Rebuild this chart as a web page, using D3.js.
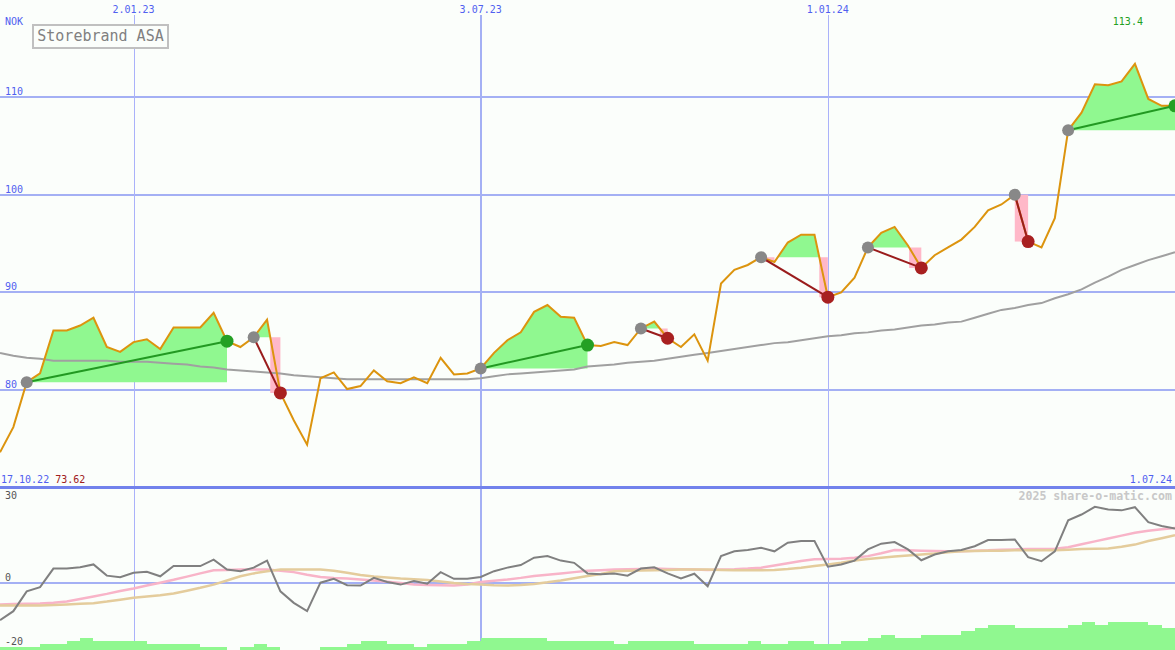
<!DOCTYPE html>
<meta charset="utf-8">
<style>

body {
  margin: 0;
  background: #fbfefb;
}

svg {
  display: block;
  font-family: "DejaVu Sans Mono", monospace;
  font-size: 10px;
}

.grid line {
  stroke: #a4b0f4;
  shape-rendering: crispEdges;
}

.line {
  fill: none;
}

</style>
<body>
<script src="https://d3js.org/d3.v7.min.js"></script>
<script>

var width = 1175,
    height = 650;

// weekly closes, 17.10.22 .. 1.07.24 (NOK)
var price = [
  73.62, 76.2, 80.8, 81.7, 86.1, 86.1, 86.6, 87.4, 84.4, 83.9,
  84.9, 85.2, 84.2, 86.4, 86.4, 86.4, 87.9, 85.0, 84.4, 85.4,
  87.2, 79.7, 76.9, 74.4, 81.2, 81.8, 80.1, 80.4, 82.0, 80.9,
  80.7, 81.3, 80.7, 83.3, 81.6, 81.7, 82.2, 83.8, 85.1, 85.9,
  88.0, 88.7, 87.5, 87.4, 84.6, 84.5, 84.9, 84.6, 86.3, 87.0,
  85.3, 84.4, 85.7, 83.0, 90.9, 92.3, 92.8, 93.6, 93.1, 95.1,
  95.9, 95.9, 89.5, 90.0, 91.5, 94.6, 96.1, 96.7, 94.8, 92.5,
  93.8, 94.6, 95.4, 96.7, 98.4, 99.0, 100.0, 95.2, 94.6, 97.6,
  106.6, 108.4, 111.3, 111.2, 111.6, 113.4, 109.8, 109.1, 109.1
];

// long moving average (grey line in the price panel)
var priceAvg = [
  83.8, 83.5, 83.3, 83.2, 83.0, 83.0, 83.0, 83.0, 83.0, 82.9,
  82.9, 82.9, 82.8, 82.7, 82.6, 82.4, 82.3, 82.1, 82.0, 81.9,
  81.8, 81.7, 81.5, 81.4, 81.3, 81.2, 81.1, 81.1, 81.1, 81.1,
  81.1, 81.1, 81.1, 81.1, 81.1, 81.1, 81.2, 81.4, 81.6, 81.7,
  81.8, 81.9, 82.0, 82.1, 82.4, 82.5, 82.6, 82.8, 82.9, 83.0,
  83.2, 83.4, 83.6, 83.8, 84.0, 84.2, 84.4, 84.6, 84.8, 84.9,
  85.1, 85.3, 85.5, 85.6, 85.8, 85.9, 86.1, 86.2, 86.4, 86.6,
  86.7, 86.9, 87.0, 87.4, 87.8, 88.2, 88.4, 88.7, 88.9, 89.4,
  89.8, 90.3, 91.0, 91.6, 92.3, 92.8, 93.3, 93.7, 94.1
];

// lower panel: momentum (grey) with two signal lines
var momentum = [
  -11.6, -8.8, -2.6, -1.3, 4.5, 4.5, 4.9, 5.8, 2.3, 1.8,
  3.2, 3.5, 2.1, 5.3, 5.3, 5.3, 7.3, 4.2, 3.7, 4.8,
  7.0, -2.6, -6.2, -8.8, 0.1, 1.3, -0.7, -0.8, 1.6, 0.3,
  -0.5, 0.6, -0.2, 3.4, 1.3, 1.3, 1.9, 3.7, 4.8, 5.6,
  7.9, 8.4, 7.0, 6.3, 3.0, 2.7, 3.0, 2.3, 4.5, 4.9,
  3.0, 1.4, 2.9, -1.0, 8.4, 9.9, 10.3, 11.0, 9.9, 12.6,
  13.1, 13.1, 5.1, 5.8, 7.0, 10.5, 12.3, 12.8, 10.5, 7.1,
  8.9, 9.9, 10.3, 11.5, 13.4, 13.4, 13.6, 8.1, 6.8, 9.9,
  19.6, 21.4, 23.8, 23.0, 22.7, 23.7, 19.0, 17.8, 17.0
];

var signalFast = [
  -6.7, -6.6, -6.5, -6.4, -6.2, -5.8, -5.0, -4.2, -3.4, -2.5,
  -1.7, -0.8, 0.1, 1.0, 2.0, 3.0, 4.0, 4.1, 4.2, 4.2,
  4.2, 3.8, 3.4, 2.6, 1.9, 1.6, 1.4, 1.1, 0.8, 0.4,
  0.0, -0.5, -0.6, -0.7, -0.8, -0.5, 0.3, 0.7, 1.1, 1.6,
  2.2, 2.6, 3.0, 3.4, 3.8, 4.0, 4.2, 4.3, 4.4, 4.5,
  4.4, 4.3, 4.2, 4.1, 4.2, 4.3, 4.5, 4.8, 5.5, 6.2,
  6.9, 7.4, 7.5, 7.6, 7.9, 8.4, 9.3, 10.3, 10.2, 10.1,
  10.0, 9.9, 9.9, 10.1, 10.2, 10.4, 10.5, 10.6, 10.6, 10.7,
  11.2, 12.1, 13.0, 13.9, 14.8, 15.7, 16.3, 16.8, 17.2
];

var signalSlow = [
  -7.0, -7.0, -7.0, -7.0, -6.9, -6.7, -6.5, -6.3, -5.8, -5.2,
  -4.6, -4.2, -3.8, -3.3, -2.4, -1.5, -0.5, 0.8, 2.1, 3.0,
  3.7, 4.2, 4.2, 4.2, 4.2, 3.8, 3.2, 2.5, 2.0, 1.7,
  1.4, 1.2, 0.9, 0.5, 0.0, -0.3, -0.5, -0.7, -0.8, -0.6,
  -0.3, 0.2, 0.8, 1.5, 2.2, 2.8, 3.7, 3.8, 3.9, 4.0,
  4.1, 4.2, 4.2, 4.2, 4.1, 4.0, 4.0, 4.0, 4.1, 4.4,
  4.8, 5.3, 5.8, 6.3, 7.0, 7.5, 7.9, 8.3, 8.6, 8.9,
  9.2, 9.6, 9.9, 10.0, 10.1, 10.1, 10.2, 10.2, 10.2, 10.2,
  10.4, 10.6, 10.7, 10.8, 11.3, 12.0, 13.1, 14.0, 14.9
];

// turnover bars at the bottom (relative units)
var volume = [
  3, 3, 3, 6, 6, 9, 12, 9, 9, 9,
  9, 6, 6, 6, 6, 3, 3, 0, 3, 6,
  3, 0, 0, 0, 3, 3, 6, 9, 9, 6,
  6, 3, 6, 6, 6, 9, 12, 12, 12, 12,
  12, 9, 9, 9, 9, 9, 6, 9, 9, 9,
  9, 9, 6, 6, 6, 6, 9, 6, 6, 9,
  9, 6, 6, 9, 9, 12, 15, 12, 12, 15,
  15, 15, 19, 22, 25, 25, 22, 22, 22, 22,
  25, 28, 25, 28, 28, 28, 25, 22, 22
];

// [entry week, exit week]
var trades = [[2, 17], [19, 21], [36, 44], [48, 50], [57, 62], [65, 69], [76, 77], [80, 88]];

var dateTicks = [
  {i: 10, label: "2.01.23", major: false},
  {i: 36, label: "3.07.23", major: true},
  {i: 62, label: "1.01.24", major: false}
];
var priceTicks = [80, 90, 100, 110];
var lowerTicks = [30, 0, -20];

var title = "Storebrand ASA",
    currency = "NOK",
    firstDate = "17.10.22",
    lastDate = "1.07.24",
    footer = "2025 share-o-matic.com";

var x = d3.scaleLinear()
    .domain([0, price.length - 1])
    .range([0, width]);

var y = d3.scaleLinear()
    .domain([80, 110])
    .range([390, 97]);

var y2 = d3.scaleLinear()
    .domain([-20, 30])
    .range([647, 487]);

var yVol = d3.scaleLinear()
    .domain([0, 30])
    .range([650, 620]);

var svg = d3.select("body").append("svg")
    .attr("width", width)
    .attr("height", height);

svg.append("rect")
    .attr("width", width)
    .attr("height", height)
    .attr("fill", "#fbfefb");

var defs = svg.append("defs");
defs.append("clipPath").attr("id", "clipTop")
  .append("rect").attr("x", 0).attr("y", 0).attr("width", width).attr("height", 486);
defs.append("clipPath").attr("id", "clipLow")
  .append("rect").attr("x", 0).attr("y", 488).attr("width", width).attr("height", height - 488);

// grid
var grid = svg.append("g").attr("class", "grid");

grid.selectAll(".h")
    .data(priceTicks)
  .enter().append("line")
    .attr("x1", 0).attr("x2", width)
    .attr("y1", function(d) { return Math.round(y(d)); })
    .attr("y2", function(d) { return Math.round(y(d)); })
    .style("stroke-width", 2);

grid.append("line")
    .attr("x1", 0).attr("x2", width)
    .attr("y1", Math.round(y2(0))).attr("y2", Math.round(y2(0)))
    .style("stroke-width", 2);

grid.selectAll(".v")
    .data(dateTicks)
  .enter().append("line")
    .attr("x1", function(d) { return Math.round(x(d.i)); })
    .attr("x2", function(d) { return Math.round(x(d.i)); })
    .attr("y1", 15).attr("y2", height)
    .style("stroke-width", function(d) { return d.major ? 2 : 1; })
    .style("stroke", function(d) { return d.major ? "#a4b0f4" : "#aab2fa"; });

// volume bars
svg.append("g")
    .attr("clip-path", "url(#clipLow)")
  .selectAll("rect")
    .data(volume)
  .enter().append("rect")
    .attr("x", function(d, i) { return x(i); })
    .attr("width", function(d, i) { return x(i + 1) - x(i); })
    .attr("y", function(d) { return yVol(d); })
    .attr("height", function(d) { return yVol(0) - yVol(d); })
    .attr("fill", "#90f890")
    .attr("shape-rendering", "crispEdges");

// trade result areas
function tradeSeries(t) {
  var a = t[0], b = t[1], base = price[a], pts = [{i: a, v: base}];
  for (var i = a + 1; i <= b; i++) {
    var p0 = price[i - 1], p1 = price[i];
    if ((p0 - base) * (p1 - base) < 0) pts.push({i: i - 1 + (base - p0) / (p1 - p0), v: base});
    pts.push({i: i, v: p1});
  }
  return pts;
}

var upper = svg.append("g").attr("clip-path", "url(#clipTop)");

trades.forEach(function(t) {
  var base = price[t[0]], pts = tradeSeries(t);

  upper.append("path")
      .datum(pts)
      .attr("fill", "#90f890")
      .attr("d", d3.area()
          .x(function(d) { return x(d.i); })
          .y0(y(base))
          .y1(function(d) { return y(Math.max(d.v, base)); }));

  upper.append("path")
      .datum(pts)
      .attr("fill", "#ffb8c8")
      .attr("d", d3.area()
          .curve(d3.curveStepBefore)
          .x(function(d) { return x(d.i); })
          .y0(y(base))
          .y1(function(d) { return y(Math.min(d.v, base)); }));
});

upper.append("path")
    .datum(priceAvg)
    .attr("class", "line")
    .attr("stroke", "#a0a0a0")
    .attr("stroke-width", 2)
    .attr("d", d3.line().x(function(d, i) { return x(i); }).y(function(d) { return y(d); }));

upper.append("path")
    .datum(price)
    .attr("class", "line")
    .attr("stroke", "#dc940e")
    .attr("stroke-width", 2)
    .attr("d", d3.line().x(function(d, i) { return x(i); }).y(function(d) { return y(d); }));

upper.selectAll(".trade")
    .data(trades)
  .enter().append("line")
    .attr("x1", function(d) { return x(d[0]); })
    .attr("y1", function(d) { return y(price[d[0]]); })
    .attr("x2", function(d) { return x(d[1]); })
    .attr("y2", function(d) { return y(price[d[1]]); })
    .attr("stroke", function(d) { return price[d[1]] >= price[d[0]] ? "#229922" : "#9a1c1c"; })
    .attr("stroke-width", 2);

upper.selectAll(".entry")
    .data(trades)
  .enter().append("circle")
    .attr("cx", function(d) { return x(d[0]); })
    .attr("cy", function(d) { return y(price[d[0]]); })
    .attr("r", 6)
    .attr("fill", "#888888");

upper.selectAll(".exit")
    .data(trades)
  .enter().append("circle")
    .attr("cx", function(d) { return x(d[1]); })
    .attr("cy", function(d) { return y(price[d[1]]); })
    .attr("r", 6.5)
    .attr("fill", function(d) { return price[d[1]] >= price[d[0]] ? "#24a024" : "#a82020"; });

// lower panel lines
var lower = svg.append("g").attr("clip-path", "url(#clipLow)");
var lowLine = d3.line().x(function(d, i) { return x(i); }).y(function(d) { return y2(d); });

lower.append("path").datum(signalFast).attr("class", "line")
    .attr("stroke", "#f8b4c8").attr("stroke-width", 2.5).attr("d", lowLine);
lower.append("path").datum(signalSlow).attr("class", "line")
    .attr("stroke", "#e4cc9c").attr("stroke-width", 2.5).attr("d", lowLine);
lower.append("path").datum(momentum).attr("class", "line")
    .attr("stroke", "#808080").attr("stroke-width", 2).attr("d", lowLine);

// panel separator
svg.append("line")
    .attr("x1", 0).attr("x2", width)
    .attr("y1", 487).attr("y2", 487)
    .attr("stroke", "#7282ec")
    .attr("stroke-width", 3)
    .attr("shape-rendering", "crispEdges");

// labels
var blue = "#5060f0";

svg.selectAll(".ptick")
    .data(priceTicks)
  .enter().append("text")
    .attr("x", 5)
    .attr("y", function(d) { return y(d) - 2; })
    .attr("fill", blue)
    .text(function(d) { return d; });

svg.selectAll(".ltick")
    .data(lowerTicks)
  .enter().append("text")
    .attr("x", 5)
    .attr("y", function(d) { return Math.max(y2(d) - 2, 499); })
    .attr("fill", "#555")
    .text(function(d) { return d; });

svg.selectAll(".dtick")
    .data(dateTicks)
  .enter().append("text")
    .attr("x", function(d) { return x(d.i); })
    .attr("y", 13)
    .attr("text-anchor", "middle")
    .attr("fill", blue)
    .text(function(d) { return d.label; });

svg.append("text").attr("x", 5).attr("y", 25).attr("fill", blue).text(currency);

var maxIdx = d3.maxIndex(price);
svg.append("text")
    .attr("x", x(maxIdx) + 8)
    .attr("y", 25)
    .attr("text-anchor", "end")
    .attr("fill", "#22a022")
    .text(d3.format(".1f")(price[maxIdx]));

var startLabel = svg.append("text").attr("x", 1).attr("y", 483);
startLabel.append("tspan").attr("fill", blue).text(firstDate + " ");
startLabel.append("tspan").attr("fill", "#a02020").text(price[0]);

svg.append("text")
    .attr("x", 1172).attr("y", 483)
    .attr("text-anchor", "end")
    .attr("fill", blue)
    .text(lastDate);

svg.append("text")
    .attr("x", 1172).attr("y", 500)
    .attr("text-anchor", "end")
    .attr("fill", "#c8c8c8")
    .style("font-size", "11.6px")
    .style("font-weight", "bold")
    .text(footer);

// title box
svg.append("rect")
    .attr("x", 33).attr("y", 25)
    .attr("width", 135).attr("height", 23)
    .attr("fill", "#fbfefb")
    .attr("stroke", "#c0c0c0")
    .attr("stroke-width", 2);

svg.append("text")
    .attr("x", 100.5).attr("y", 41)
    .attr("text-anchor", "middle")
    .attr("fill", "#808080")
    .style("font-size", "15px")
    .text(title);

</script>
